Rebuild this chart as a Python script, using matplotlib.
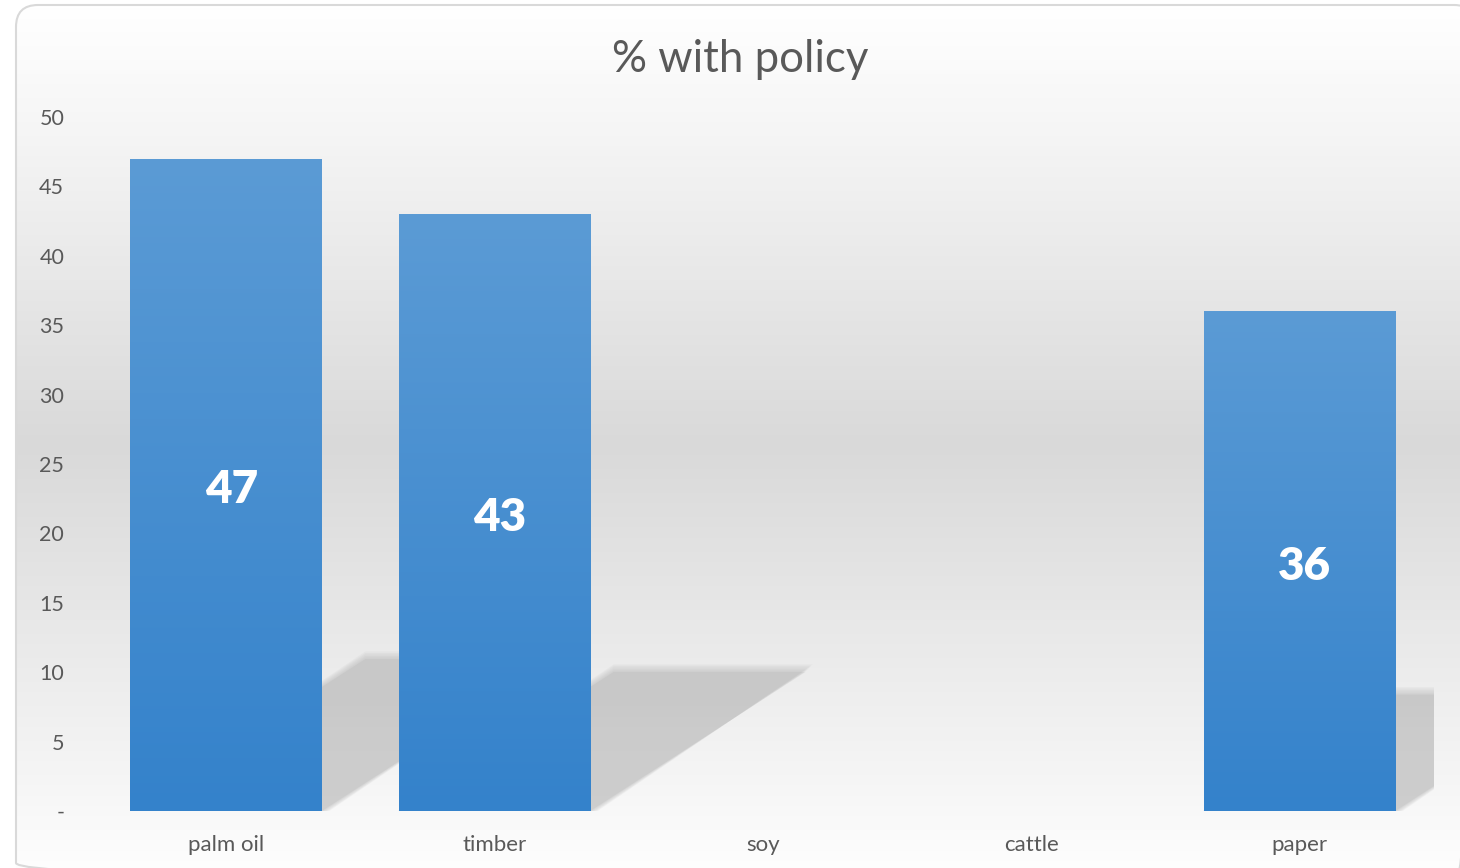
import numpy as np
import matplotlib.pyplot as plt
from matplotlib.patches import FancyBboxPatch, Polygon
from matplotlib.colors import LinearSegmentedColormap

# ---- data ----
categories = ["palm oil", "timber", "soy", "cattle", "paper"]
values = [47, 43, 0, 0, 36]
yticks = [0, 5, 10, 15, 20, 25, 30, 35, 40, 45, 50]
ytick_labels = ["-"] + [str(t) for t in yticks[1:]]
title = "% with policy"

plt.rcParams["font.family"] = ["Lato", "DejaVu Sans"]
text_grey = "#595959"

fig = plt.figure(figsize=(14.6, 8.68), dpi=100)

# ---- background frame with vertical gradient ----
bg = fig.add_axes([0, 0, 1, 1])
bg.set_xlim(0, 1460)
bg.set_ylim(868, 0)
bg.axis("off")
frame = FancyBboxPatch((16, 5), 1460, 880, boxstyle="round,pad=0,rounding_size=22",
                       facecolor="none", edgecolor="#d9d9d9", linewidth=1.5, zorder=2)
bg.add_patch(frame)
bg_cmap = LinearSegmentedColormap.from_list(
    "bg", [(0, "#ffffff"), (0.12, "#f7f7f7"), (0.5, "#d9d9d9"), (0.85, "#f3f3f3"), (1, "#ffffff")])
grad = np.linspace(0, 1, 256).reshape(-1, 1)
im = bg.imshow(grad, extent=[16, 1476, 885, 5], cmap=bg_cmap, aspect="auto", zorder=1)
im.set_clip_path(frame)

# ---- main axes ----
ax = fig.add_axes([0.063, 0.0657, 0.919, 0.7995])
ax.patch.set_alpha(0)
x = np.arange(len(categories))
bar_w = 0.715

# soft perspective shadows cast to the right
for xi, v in zip(x, values):
    if v <= 0:
        continue
    h = v * 0.233
    dx = h * 0.08
    x0, x1 = xi - bar_w / 2, xi + bar_w / 2
    for k in range(6):
        g = 0.9 - k * 0.18
        poly = Polygon([(x0, 0), (x1 + g * 0.03, 0),
                        (x1 + dx + g * 0.03, h + g * 0.6), (x0 + dx, h + g * 0.6)],
                       closed=True, facecolor="#a8a8a8", alpha=0.09 if k < 5 else 0.2,
                       edgecolor="none", zorder=1)
        ax.add_patch(poly)

bars = ax.bar(x, values, width=bar_w, color="#4a8fd3", zorder=3)
bar_cmap = LinearSegmentedColormap.from_list("bar", ["#3482cb", "#5b9bd5"])
for b in bars:
    if b.get_height() <= 0:
        continue
    gi = ax.imshow(grad, extent=[b.get_x(), b.get_x() + b.get_width(), 0, b.get_height()],
                   cmap=bar_cmap, origin="lower", aspect="auto", zorder=4)
    gi.set_clip_path(b)

for b, v in zip(bars, values):
    if v <= 0:
        continue
    ax.text(b.get_x() + b.get_width() / 2 + 0.02, v / 2 - 0.35, str(v), ha="center", va="center",
            color="white", fontsize=33, fontweight="heavy", zorder=5)

ax.set_xlim(-0.5, len(categories) - 0.5)
ax.set_ylim(0, 50)
ax.set_yticks(yticks)
ax.set_yticklabels(ytick_labels)
ax.set_xticks(x)
ax.set_xticklabels(categories)
ax.tick_params(axis="y", length=0, pad=20, labelsize=15.5, labelcolor=text_grey)
ax.tick_params(axis="x", length=0, pad=17, labelsize=16, labelcolor=text_grey)
for s in ax.spines.values():
    s.set_visible(False)

fig.text(0.507, 0.932, title, ha="center", va="center", fontsize=31.5, color=text_grey)

fig.savefig("out.png", dpi=100)
